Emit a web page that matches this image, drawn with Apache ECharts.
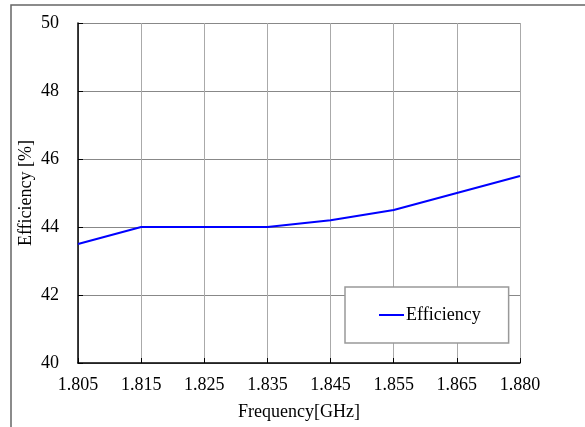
<!DOCTYPE html>
<html>
<head>
<meta charset="utf-8">
<script src="https://cdn.jsdelivr.net/npm/echarts@6/dist/echarts.min.js"></script>
<style>
html, body { margin: 0; padding: 0; background: #fff; }
#chart { width: 585px; height: 427px; }
</style>
</head>
<body>
<div id="chart"></div>
<script>
// frequency points (GHz) and efficiency (%)
var frequencies = ['1.805', '1.815', '1.825', '1.835', '1.845', '1.855', '1.865', '1.880'];
var efficiency = [43.5, 44.0, 44.0, 44.0, 44.2, 44.5, 45.0, 45.5];
var yTicks = [40, 42, 44, 46, 48, 50];

var chart = echarts.init(document.getElementById('chart'));
var fontFamily = '"Liberation Serif", "Times New Roman", serif';

var option = {
	backgroundColor: '#fff',
	animation: false,
	textStyle: { fontFamily: fontFamily, color: '#000' },
	graphic: [{
		type: 'rect',
		shape: { x: 11, y: 5, width: 600, height: 440 },
		style: { fill: 'none', stroke: '#666', lineWidth: 1.5 },
		silent: true
	}],
	grid: { left: 78, right: 65, top: 23, bottom: 64 },
	legend: {
		data: ['Efficiency'],
		left: 345,
		top: 287,
		padding: [19, 28, 19, 34],
		icon: 'rect',
		itemWidth: 25,
		itemHeight: 2,
		backgroundColor: '#fff',
		borderColor: '#999',
		borderWidth: 1.5,
		borderRadius: 0,
		textStyle: { fontFamily: fontFamily, fontSize: 18, color: '#000', padding: [0, 0, 0, -3] }
	},
	xAxis: {
		type: 'category',
		data: frequencies,
		boundaryGap: false,
		name: 'Frequency[GHz]',
		nameLocation: 'middle',
		nameGap: 40,
		nameMoveOverlap: false,
		nameTextStyle: { fontFamily: fontFamily, fontSize: 18, color: '#000' },
		axisLine: { lineStyle: { color: '#000', width: 1.5 } },
		axisTick: { inside: true, length: 5, lineStyle: { color: '#000' } },
		axisLabel: { fontFamily: fontFamily, fontSize: 18, color: '#000', margin: 13 },
		splitLine: { show: true, lineStyle: { color: '#aaa', width: 1 } }
	},
	yAxis: {
		type: 'value',
		min: yTicks[0],
		max: yTicks[yTicks.length - 1],
		interval: 2,
		name: 'Efficiency [%]',
		nameLocation: 'middle',
		nameGap: 43,
		nameMoveOverlap: false,
		nameTextStyle: { fontFamily: fontFamily, fontSize: 18, color: '#000' },
		axisLine: { show: true, lineStyle: { color: '#000', width: 1.5 } },
		axisTick: { show: true, inside: true, length: 5, lineStyle: { color: '#000' } },
		axisLabel: { fontFamily: fontFamily, fontSize: 18, color: '#000', margin: 19 },
		splitLine: { show: true, lineStyle: { color: '#888', width: 1 } }
	},
	series: [{
		name: 'Efficiency',
		type: 'line',
		data: efficiency,
		symbol: 'none',
		lineStyle: { color: '#0000ff', width: 2 },
		itemStyle: { color: '#0000ff' }
	}]
};

chart.setOption(option);
</script>
</body>
</html>
